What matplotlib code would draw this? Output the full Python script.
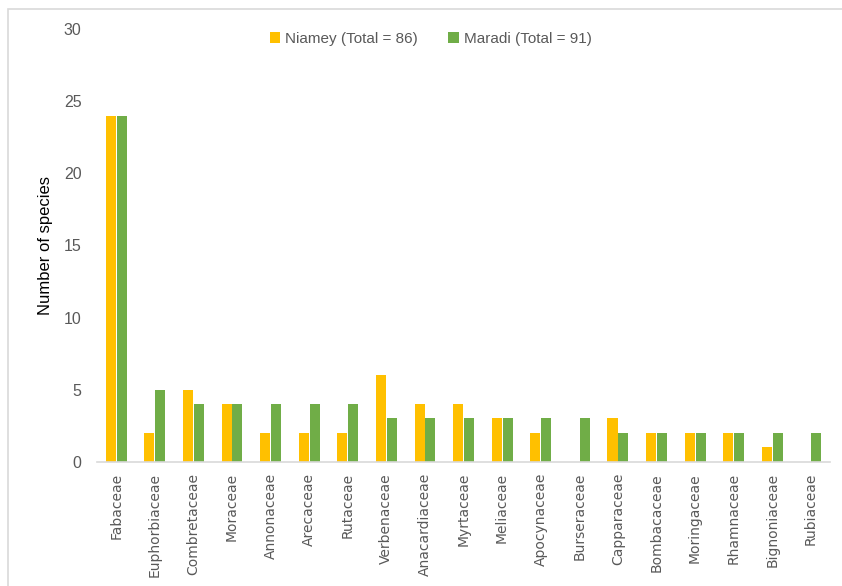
import matplotlib.pyplot as plt
import numpy as np
from matplotlib.patches import Rectangle

families = ['Fabaceae', 'Euphorbiaceae', 'Combretaceae', 'Moraceae', 'Annonaceae',
            'Arecaceae', 'Rutaceae', 'Verbenaceae', 'Anacardiaceae', 'Myrtaceae',
            'Meliaceae', 'Apocynaceae', 'Burseraceae', 'Capparaceae', 'Bombacaceae',
            'Moringaceae', 'Rhamnaceae', 'Bignoniaceae', 'Rubiaceae']
niamey = [24, 2, 5, 4, 2, 2, 2, 6, 4, 4, 3, 2, 0, 3, 2, 2, 2, 1, 0]
maradi = [24, 5, 4, 4, 4, 4, 4, 3, 3, 3, 3, 3, 3, 2, 2, 2, 2, 2, 2]
labels = ['Niamey (Total = 86)', 'Maradi (Total = 91)']

grey = '#595959'

fig = plt.figure(figsize=(8.42, 5.86), dpi=100)
ax = fig.add_axes([0.115, 0.212, 0.871, 0.7385])

# light frame of the chart area
fig.patches.append(Rectangle((0.009, -0.1), 1.2, 1.085, transform=fig.transFigure,
                             fill=False, edgecolor='#D9D9D9', linewidth=1.2))

x = np.arange(len(families))
width = 0.26
ax.bar(x - width / 2 - 0.01, niamey, width, color='#FFC000', label=labels[0])
ax.bar(x + width / 2 + 0.01, maradi, width, color='#70AD47', label=labels[1])

ax.set_xlim(-0.5, len(families) - 0.5)
ax.set_ylim(0, 30)
ax.set_yticks(range(0, 31, 5))
ax.set_xticks(x)
ax.set_xticklabels(families, rotation=90, fontsize=10, color=grey, family='DejaVu Sans')
for t in ax.get_yticklabels():
    t.set_fontsize(11.5)
    t.set_color(grey)
    t.set_family('Liberation Sans')
ax.tick_params(axis='both', length=0)
ax.tick_params(axis='y', pad=11)
ax.tick_params(axis='x', pad=8)

for s in ['top', 'right', 'left']:
    ax.spines[s].set_visible(False)
ax.spines['bottom'].set_color('#D9D9D9')
ax.spines['bottom'].set_linewidth(1.2)

ax.set_ylabel('Number of species', fontsize=12, color='black', family='Liberation Sans', labelpad=8)

ax.legend(loc='upper center', bbox_to_anchor=(0.455, 1.025), ncol=2, frameon=False,
          handlelength=0.7, handleheight=0.7, handletextpad=0.3, columnspacing=2.0,
          prop={'family': 'Liberation Sans', 'size': 11}, labelcolor=grey)

fig.savefig('out.png', dpi=100)
